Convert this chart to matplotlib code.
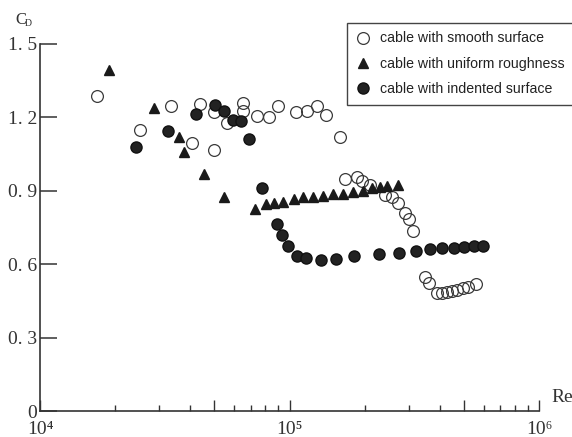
import matplotlib
matplotlib.use("Agg")
import matplotlib.pyplot as plt
from matplotlib.ticker import FixedLocator, NullFormatter

# cable with smooth surface
smooth_re = [1.69e4, 2.52e4, 3.35e4, 4.06e4, 4.38e4, 4.98e4, 4.98e4, 5.62e4,
             6.51e4, 6.51e4, 7.41e4, 8.28e4, 9.0e4, 1.062e5, 1.175e5, 1.289e5,
             1.40e5, 1.594e5, 1.669e5, 1.865e5, 1.952e5, 2.10e5, 2.414e5,
             2.575e5, 2.72e5, 2.90e5, 3.01e5, 3.126e5, 3.49e5, 3.62e5, 3.90e5,
             4.08e5, 4.28e5, 4.48e5, 4.69e5, 4.95e5, 5.19e5, 5.59e5]
smooth_cd = [1.287, 1.148, 1.246, 1.095, 1.255, 1.222, 1.067, 1.177,
             1.259, 1.226, 1.206, 1.201, 1.246, 1.222, 1.226, 1.246,
             1.210, 1.120, 0.948, 0.956, 0.940, 0.924, 0.883,
             0.875, 0.850, 0.809, 0.785, 0.736, 0.548, 0.523, 0.482,
             0.482, 0.486, 0.490, 0.494, 0.503, 0.507, 0.519]

# cable with uniform roughness
rough_re = [1.89e4, 2.86e4, 3.61e4, 3.78e4, 4.54e4, 5.46e4, 7.27e4, 8.05e4,
            8.67e4, 9.42e4, 1.042e5, 1.133e5, 1.242e5, 1.362e5, 1.493e5,
            1.638e5, 1.797e5, 1.97e5, 2.14e5, 2.305e5, 2.46e5, 2.72e5]
rough_cd = [1.394, 1.238, 1.120, 1.058, 0.969, 0.875, 0.826, 0.846,
            0.850, 0.854, 0.866, 0.875, 0.875, 0.879, 0.887,
            0.887, 0.895, 0.899, 0.911, 0.915, 0.919, 0.924]

# cable with indented surface
indent_re = [2.43e4, 3.26e4, 4.22e4, 5.03e4, 5.46e4, 5.94e4, 6.39e4, 6.88e4,
             7.76e4, 8.91e4, 9.33e4, 9.86e4, 1.072e5, 1.164e5, 1.337e5,
             1.535e5, 1.814e5, 2.284e5, 2.75e5, 3.21e5, 3.66e5, 4.08e5,
             4.56e5, 5.0e5, 5.49e5, 5.97e5]
indent_cd = [1.079, 1.144, 1.214, 1.250, 1.226, 1.189, 1.185, 1.112,
             0.911, 0.764, 0.719, 0.674, 0.633, 0.625, 0.617,
             0.621, 0.633, 0.642, 0.646, 0.654, 0.662, 0.666,
             0.666, 0.670, 0.674, 0.674]

y_ticks = [0, 0.3, 0.6, 0.9, 1.2, 1.5]
y_labels = ["0", "0. 3", "0. 6", "0. 9", "1. 2", "1. 5"]
x_major = [1e4, 5e4, 1e5, 5e5, 1e6]
x_labels = ["10\u2074", "", "10\u2075", "", "10\u2076"]
x_minor = [2e4, 3e4, 4e4, 6e4, 7e4, 8e4, 9e4,
           2e5, 3e5, 4e5, 6e5, 7e5, 8e5, 9e5]

SERIF = ["Liberation Serif", "DejaVu Serif"]
INK = "#333333"

fig = plt.figure(figsize=(5.72, 4.37), dpi=100)
ax = fig.add_axes([40 / 572, 26 / 437, 499 / 572, 367 / 437])

ax.plot(smooth_re, smooth_cd, "o", ms=8.5, mfc="none", mec="#3a3a3a",
        mew=0.9, label="cable with smooth surface", clip_on=False)
ax.plot(rough_re, rough_cd, "^", ms=7.5, color="#1a1a1a",
        label="cable with uniform roughness", clip_on=False)
ax.plot(indent_re, indent_cd, "o", ms=8, color="#222222", mec="#111111",
        label="cable with indented surface", clip_on=False)

ax.set_xscale("log")
ax.set_xlim(1e4, 1e6)
ax.set_ylim(0, 1.5)

ax.xaxis.set_major_locator(FixedLocator(x_major))
ax.xaxis.set_minor_locator(FixedLocator(x_minor))
ax.xaxis.set_minor_formatter(NullFormatter())
ax.set_xticklabels(x_labels, family=SERIF, fontsize=14, color=INK)
ax.set_yticks(y_ticks)
ax.set_yticklabels(y_labels, family=SERIF, fontsize=14, color=INK)

ax.tick_params(axis="y", direction="in", length=12, width=1.1, color=INK, pad=2)
ax.tick_params(axis="x", which="major", direction="in", length=8, width=1,
               color=INK, pad=7)
ax.tick_params(axis="x", which="minor", direction="in", length=4, width=1,
               color=INK)

for side in ["top", "right"]:
    ax.spines[side].set_visible(False)
for side in ["left", "bottom"]:
    ax.spines[side].set_color(INK)
    ax.spines[side].set_linewidth(1.2)

fig.text(551 / 572, 1 - 398 / 437, "Re", family=SERIF, fontsize=14,
         color=INK, va="center", ha="left")
fig.text(15 / 572, 1 - 20 / 437, "C", family=SERIF, fontsize=12,
         color=INK, va="center", ha="left")
fig.text(25 / 572, 1 - 23 / 437, "D", family=SERIF, fontsize=7,
         color=INK, va="center", ha="left")

leg = ax.legend(loc="upper left", bbox_to_anchor=(347 / 572, 1 - 23 / 437),
                bbox_transform=fig.transFigure, borderaxespad=0,
                fancybox=False, framealpha=1, edgecolor="#444444",
                prop={"family": "Liberation Sans", "size": 10.2},
                handlelength=1.0, handletextpad=0.7, labelspacing=0.8,
                borderpad=0.6)
leg.get_frame().set_linewidth(1.0)
for t in leg.get_texts():
    t.set_color("#222222")

fig.savefig("out.png", dpi=100)
